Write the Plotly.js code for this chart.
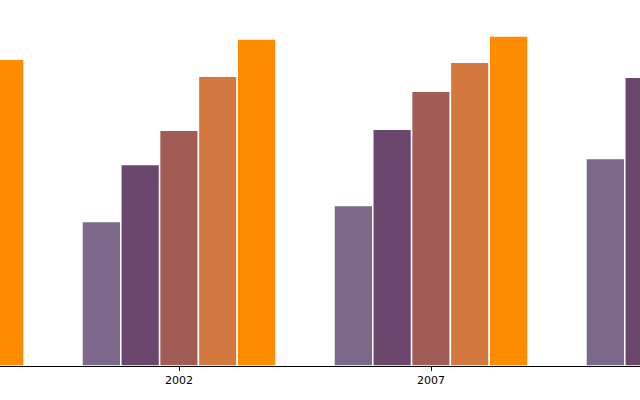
<!DOCTYPE html>
<html>
<head>
<meta charset="utf-8">
<script src="https://cdn.plot.ly/plotly-3.0.1.min.js"></script>
<style>html,body{margin:0;padding:0;background:#fff;}#chart{width:640px;height:400px;}</style>
</head>
<body>
<div id="chart"></div>
<script>
const years = [1997, 2002, 2007, 2012];
const seriesA = [120, 144, 160, 207];
const seriesB = [175, 201, 236, 288];
const seriesC = [215, 235, 274, 300];
const seriesD = [270, 289, 303, 318];
const seriesE = [306, 326, 329, 335];
const tickLabels = ['1997', '2002', '2007', '2012'];
const colors = ['#7b688b', '#6b466d', '#a05c55', '#d3783e', '#ff8c00'];
const allSeries = [seriesA, seriesB, seriesC, seriesD, seriesE];

const traces = allSeries.map((vals, i) => ({
  type: 'bar',
  x: years,
  y: vals,
  marker: {color: colors[i], line: {color: '#ffffff', width: 1.5}},
  hoverinfo: 'none'
}));

const layout = {
  width: 640, height: 400,
  margin: {l: 0, r: 0, t: 0, b: 34, pad: 0},
  paper_bgcolor: '#ffffff', plot_bgcolor: '#ffffff',
  showlegend: false,
  barmode: 'group',
  bargap: 0.23,
  bargroupgap: 0,
  font: {family: 'DejaVu Sans', size: 11, color: '#000'},
  xaxis: {
    range: [1998.448, 2011.147],
    tickvals: years, ticktext: tickLabels,
    ticks: 'outside', ticklen: 4, tickcolor: '#000', tickwidth: 1,
    showline: true, linecolor: '#000', linewidth: 1,
    showgrid: false, zeroline: false,
    tickfont: {family: 'DejaVu Sans', size: 11, color: '#000'}
  },
  yaxis: {
    range: [0, 365],
    visible: false, showgrid: false, zeroline: false
  }
};

Plotly.newPlot('chart', traces, layout, {displayModeBar: false, staticPlot: true});
</script>
</body>
</html>
